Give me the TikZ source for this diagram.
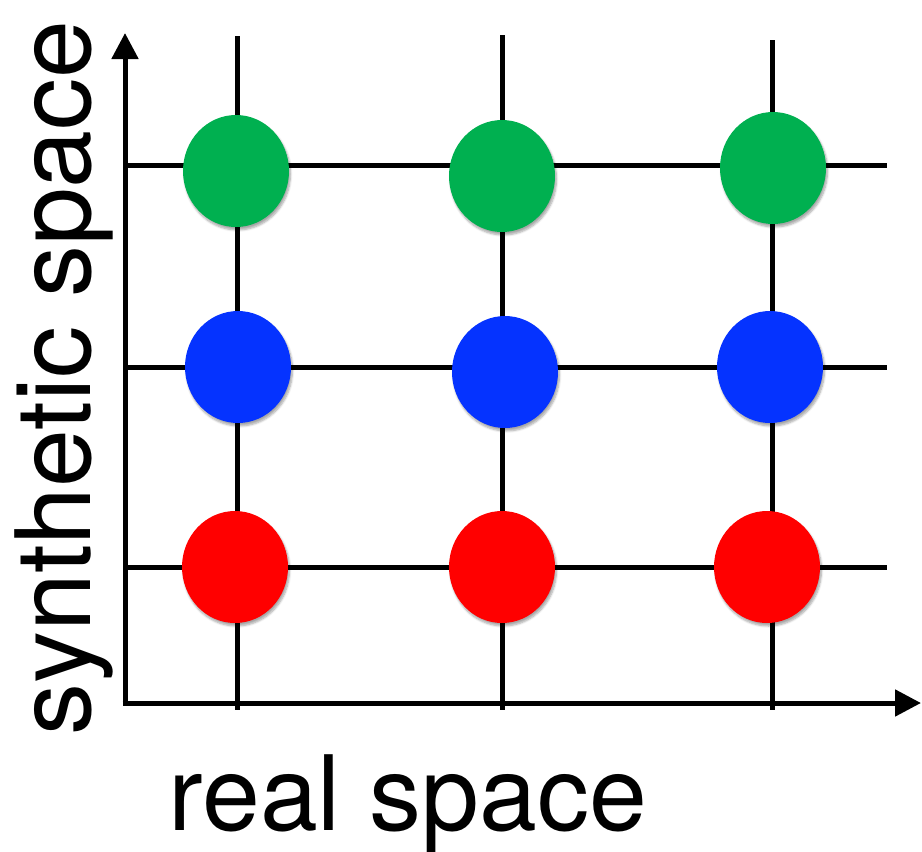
\documentclass[tikz,border=0pt]{standalone}
\usepackage{fontspec}
\setmainfont{TeX Gyre Heros}
\usetikzlibrary{arrows.meta,shapes.geometric,shadows.blur}

\definecolor{dotgreen}{RGB}{0,176,80}
\definecolor{dotblue}{RGB}{5,51,255}
\definecolor{dotred}{RGB}{255,0,0}

\begin{document}
\begin{tikzpicture}[
  x=1pt, y=-1pt,
  >={Triangle[length=26pt,width=26pt]},
  gridline/.style={line width=5pt},
  dot/.style={ellipse, inner sep=0pt, minimum width=106pt, minimum height=112pt,
    blur shadow={shadow xshift=1.5pt, shadow yshift=-3pt, shadow blur steps=6, shadow opacity=35}},
  axislabel/.style={inner sep=0pt, anchor=base, font=\fontsize{104}{110}\selectfont}
]
\useasboundingbox (0,0) rectangle (922,852);

% axes corners
\coordinate (o) at (125,703);
\coordinate (ytop) at (125,33);
\coordinate (xend) at (921,703);

% grid lines
\foreach \x/\t in {237/36,502/35,772/40} {
  \draw[gridline] (\x,\t) -- (\x,710);
}
\foreach \y in {165,367,567} {
  \draw[gridline] (127,\y) -- (887,\y);
}

% axes
\draw[gridline,->] ([yshift=-2.5pt]o) -- (ytop);
\draw[gridline,->] ([xshift=-2.5pt]o) -- (xend);

% dots
\node[dot, fill=dotgreen] (g1) at (236,171) {};
\node[dot, fill=dotgreen] (g2) at (502,176) {};
\node[dot, fill=dotgreen] (g3) at (773,168) {};
\node[dot, fill=dotblue] (b1) at (238,367) {};
\node[dot, fill=dotblue] (b2) at (505,372) {};
\node[dot, fill=dotblue] (b3) at (770,367) {};
\node[dot, fill=dotred] (r1) at (235,567) {};
\node[dot, fill=dotred] (r2) at (502,567) {};
\node[dot, fill=dotred] (r3) at (767,567) {};

% labels
\node[axislabel, rotate=90] (ylabel) at (90,378) {synthetic space};
\node[axislabel] (xlabel) at (408,830) {real space};
\end{tikzpicture}
\end{document}
